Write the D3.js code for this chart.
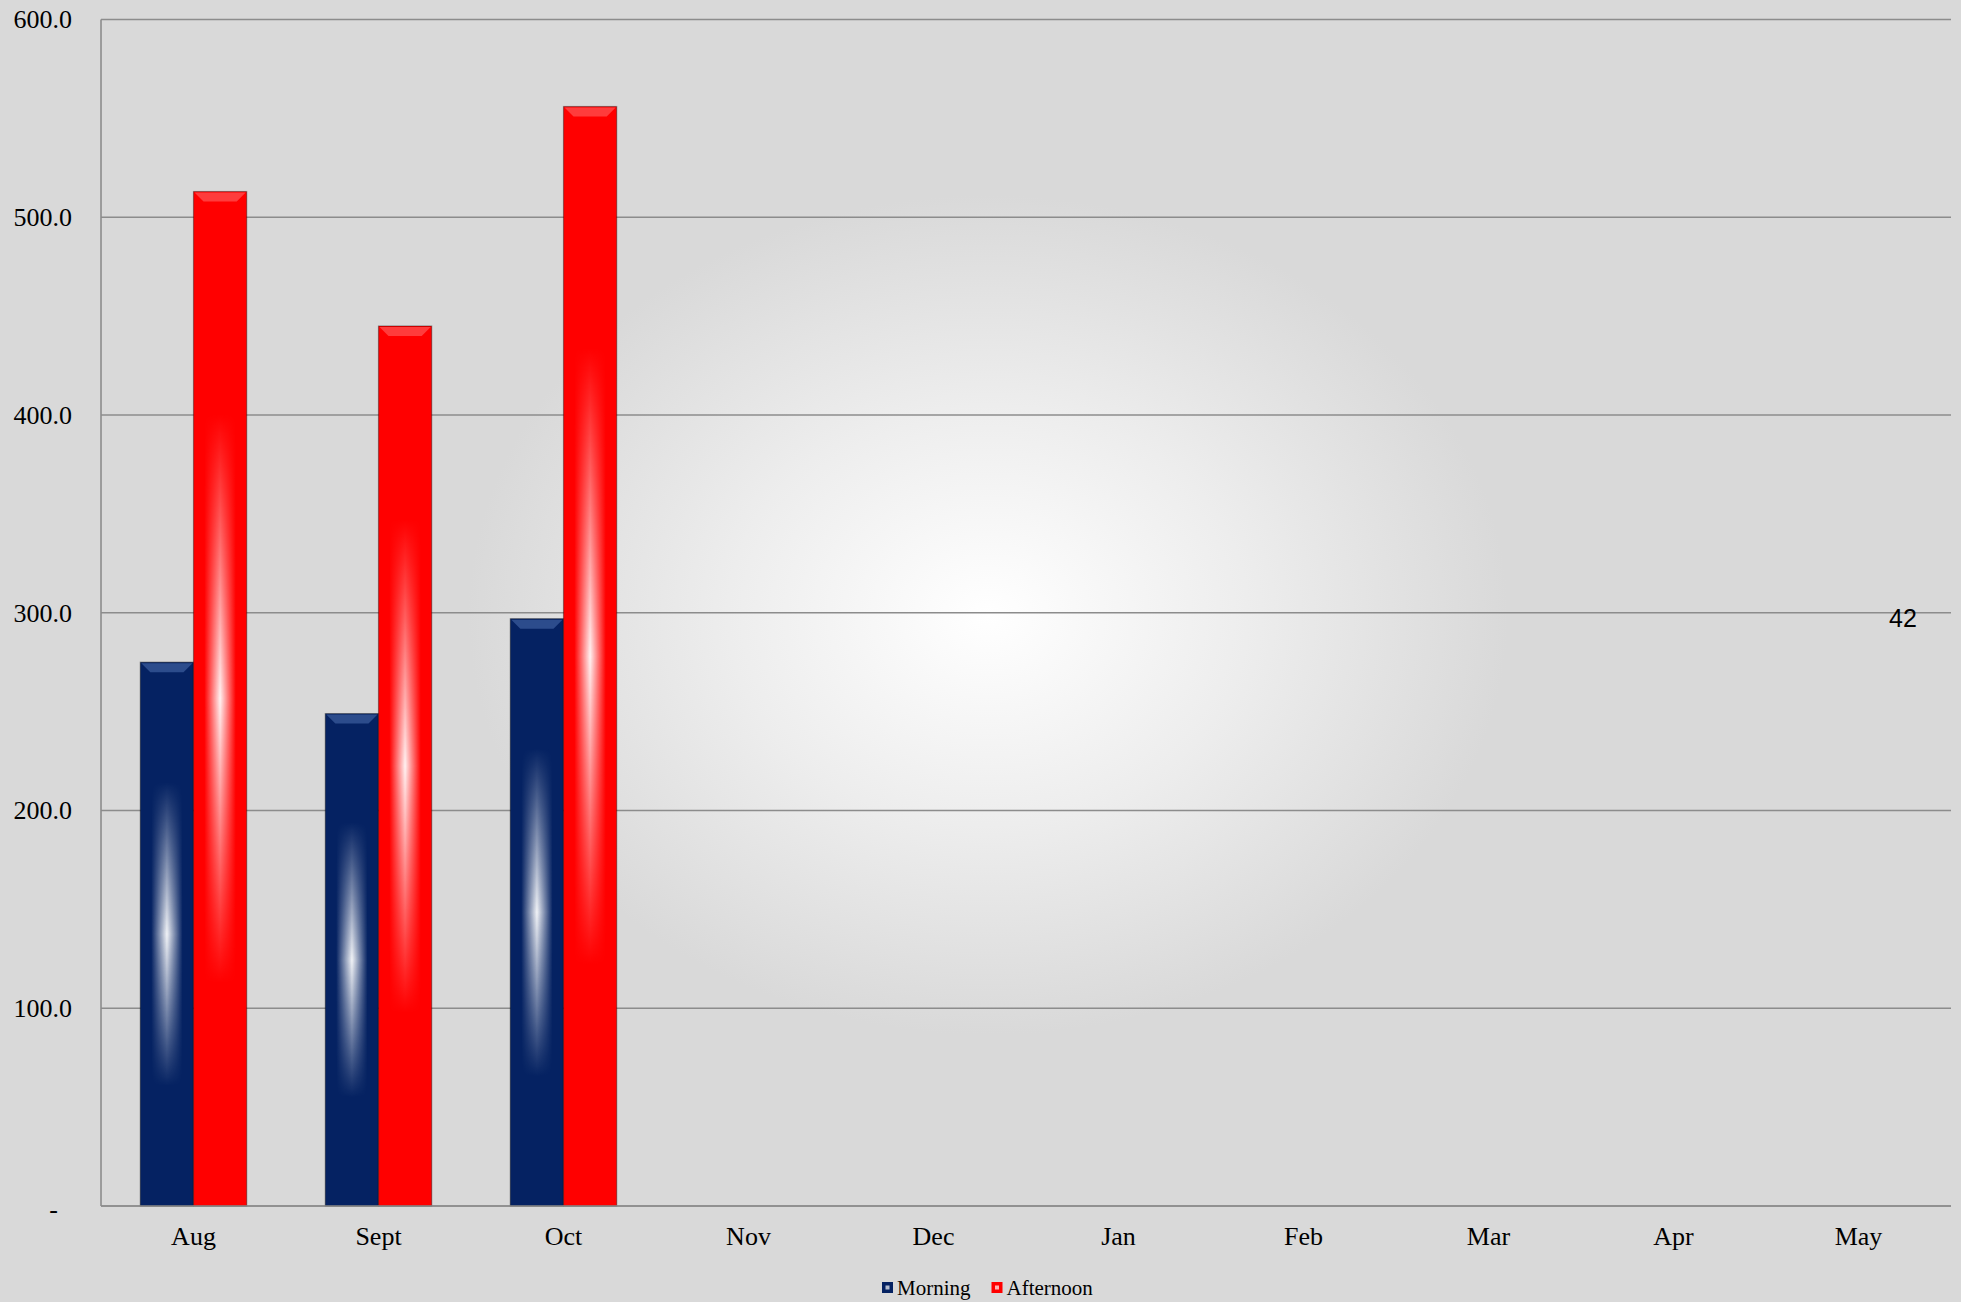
<!DOCTYPE html>
<html>
<head>
<meta charset="utf-8">
<script src="https://cdn.jsdelivr.net/npm/d3@7"></script>
<style>
  body { margin: 0; background: #d9d9d9; }
  svg { display: block; }
</style>
</head>
<body>
<svg width="1961" height="1302"></svg>
<script>
// данные
const months = ["Aug", "Sept", "Oct", "Nov", "Dec", "Jan", "Feb", "Mar", "Apr", "May"];
const morning = [275, 249, 297, null, null, null, null, null, null, null];
const afternoon = [513, 445, 556, null, null, null, null, null, null, null];
const series = ["Morning", "Afternoon"];
const yTicks = [0, 100, 200, 300, 400, 500, 600];
const note = "42";

const svg = d3.select("svg"),
    margin = {top: 19.5, right: 10, bottom: 96, left: 101},
    width = +svg.attr("width") - margin.left - margin.right,
    height = +svg.attr("height") - margin.top - margin.bottom;

const defs = svg.append("defs");

// фон с белым пятном в центре
const bg = defs.append("radialGradient").attr("id", "bgGrad")
    .attr("cx", 0.5).attr("cy", 0.5).attr("r", 0.5);
bg.append("stop").attr("offset", "0%").attr("stop-color", "#ffffff");
bg.append("stop").attr("offset", "50%").attr("stop-color", "#ededed");
bg.append("stop").attr("offset", "100%").attr("stop-color", "#d9d9d9");

svg.append("rect").attr("width", 1961).attr("height", 1302).attr("fill", "#d9d9d9");
svg.append("ellipse")
    .attr("cx", 988).attr("cy", 615).attr("rx", 520).attr("ry", 420)
    .attr("fill", "url(#bgGrad)");

// блик на столбиках
const hGrad = defs.append("linearGradient").attr("id", "hGrad")
    .attr("x1", 0).attr("x2", 1).attr("y1", 0).attr("y2", 0);
[[0, 0], [0.18, 0], [0.5, 0.95], [0.82, 0], [1, 0]].forEach(s =>
    hGrad.append("stop").attr("offset", s[0]).attr("stop-color", "#fff").attr("stop-opacity", s[1]));

const vGrad = defs.append("linearGradient").attr("id", "vGrad")
    .attr("x1", 0).attr("x2", 0).attr("y1", 0).attr("y2", 1);
[[0, 0], [0.22, 0], [0.5, 1], [0.78, 0], [1, 0]].forEach(s =>
    vGrad.append("stop").attr("offset", s[0]).attr("stop-color", "#fff").attr("stop-opacity", s[1]));
defs.append("mask").attr("id", "vMask").attr("maskContentUnits", "objectBoundingBox")
    .append("rect").attr("width", 1).attr("height", 1).attr("fill", "url(#vGrad)");

const g = svg.append("g").attr("transform", "translate(" + margin.left + "," + margin.top + ")");

// шкалы
const x = d3.scaleBand().domain(months).range([0, width]);
const inner = d3.scaleBand().domain(series).range([0, x.bandwidth() * 0.575])
    .paddingInner(0);
const y = d3.scaleLinear().domain([0, 600]).range([height, 0]);
const colors = {Morning: "#052262", Afternoon: "#ff0000"};
const tops = {Morning: "#2c4c8c", Afternoon: "#ff3c3c"};

// сетка
g.append("g")
    .selectAll("line")
    .data(yTicks)
    .join("line")
    .attr("x1", 0).attr("x2", width)
    .attr("y1", d => y(d)).attr("y2", d => y(d))
    .attr("stroke", "#8c8c8c").attr("stroke-width", 1.6);

g.append("line").attr("x1", 0).attr("x2", 0).attr("y1", 0).attr("y2", height)
    .attr("stroke", "#8c8c8c").attr("stroke-width", 1.6);

// ось Y
g.append("g")
    .attr("class", "axis axis--y")
    .call(d3.axisLeft(y).tickValues(yTicks).tickSize(0).tickPadding(29)
        .tickFormat(d => d === 0 ? "-" : d3.format(".1f")(d)))
    .call(a => a.select(".domain").remove())
    .selectAll("text")
    .attr("font-family", "'Liberation Serif', 'Times New Roman', serif")
    .attr("font-size", 26).attr("fill", "#000")
    .attr("dx", d => d === 0 ? -14 : 0)
    .attr("dy", d => d === 0 ? "0.45em" : "0.32em");

// ось X
g.append("g")
    .attr("class", "axis axis--x")
    .attr("transform", "translate(0," + height + ")")
    .call(d3.axisBottom(x).tickSize(0).tickPadding(21))
    .call(a => a.select(".domain").remove())
    .selectAll("text")
    .attr("font-family", "'Liberation Serif', 'Times New Roman', serif")
    .attr("font-size", 26).attr("fill", "#000");

// столбики
const rows = months.map((m, i) => ({month: m, Morning: morning[i], Afternoon: afternoon[i]}));
const off = (x.bandwidth() - inner.range()[1]) / 2;

const bars = g.append("g").selectAll("g")
    .data(rows.flatMap(r => series.filter(s => r[s] != null)
        .map(s => ({month: r.month, key: s, value: r[s]}))))
    .join("g")
    .attr("transform", d => "translate(" + (x(d.month) + off + inner(d.key)) + "," + y(d.value) + ")");

bars.append("rect")
    .attr("width", inner.bandwidth())
    .attr("height", d => y(0) - y(d.value))
    .attr("fill", d => colors[d.key])
    .attr("stroke", "rgba(0,0,0,0.35)").attr("stroke-width", 1.2);

bars.append("rect")
    .attr("x", 2).attr("width", inner.bandwidth() - 4)
    .attr("height", d => y(0) - y(d.value))
    .attr("fill", "url(#hGrad)")
    .attr("mask", "url(#vMask)");

// скос сверху
bars.append("path")
    .attr("d", () => {
        const w = inner.bandwidth();
        return "M1,1 L" + (w - 1) + ",1 L" + (w - 10) + ",10 L10,10 Z";
    })
    .attr("fill", d => tops[d.key]);

g.append("line").attr("x1", 0).attr("x2", width).attr("y1", height).attr("y2", height)
    .attr("stroke", "#8c8c8c").attr("stroke-width", 1.6);

// подпись справа
svg.append("text")
    .attr("x", 1903).attr("y", 627)
    .attr("text-anchor", "middle")
    .attr("font-family", "'Liberation Sans', Arial, sans-serif")
    .attr("font-size", 25).attr("fill", "#000")
    .text(note);

// легенда
const legend = svg.append("g").attr("transform", "translate(882,1295)");
let lx = 0;
series.forEach(s => {
    const item = legend.append("g").attr("transform", "translate(" + lx + ",0)");
    item.append("rect").attr("x", 0).attr("y", -13).attr("width", 11).attr("height", 11)
        .attr("fill", colors[s]);
    item.append("rect").attr("x", 3.5).attr("y", -9.5).attr("width", 4).attr("height", 4)
        .attr("fill", "#fff").attr("opacity", 0.7);
    const t = item.append("text").attr("x", 15).attr("y", 0)
        .attr("font-family", "'Liberation Serif', 'Times New Roman', serif")
        .attr("font-size", 21).attr("fill", "#000").text(s);
    lx += 15 + t.node().getComputedTextLength() + 21;
});
</script>
</body>
</html>
